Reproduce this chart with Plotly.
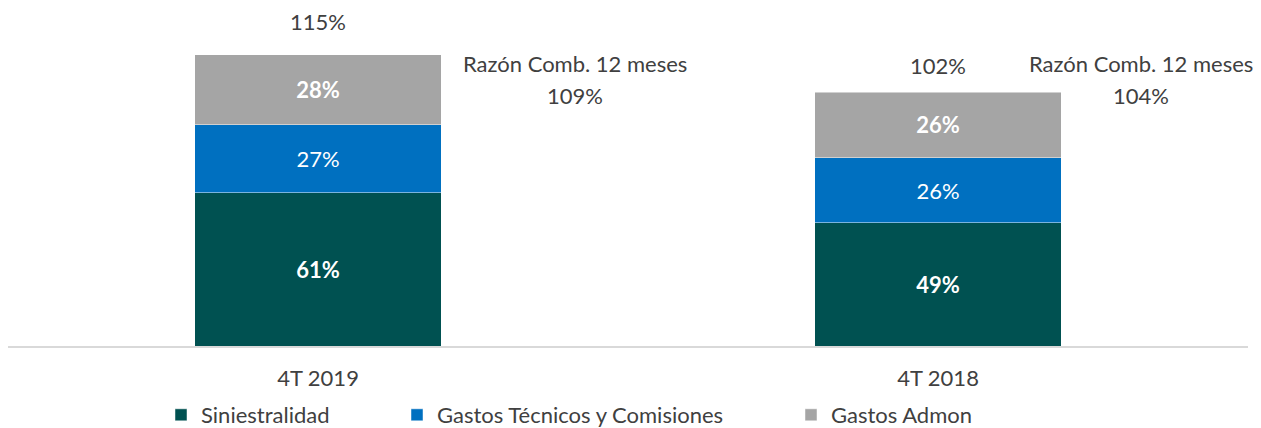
import plotly.graph_objects as go

categories = ["4T 2019", "4T 2018"]
siniestralidad = [61, 49]
gastos_tecnicos = [27, 26]
gastos_admon = [28, 26]
totales = [115, 102]
razon_12m = [109, 104]

series = [
    ("Siniestralidad", siniestralidad, "#005151", True),
    ("Gastos Técnicos y Comisiones", gastos_tecnicos, "#0070C0", False),
    ("Gastos Admon", gastos_admon, "#A5A5A5", True),
]

FONT = "Lato"
FS = 22
TXT = "#404040"
# The page body has an 8px margin, so the figure is sized to the visible area.
OFF = 8
W, H = 1261 - OFF, 428 - OFF
ML, MR, MT, MB = 0, 13, 14, 82
PW = W - ML - MR
PH = H - MT - MB

fig = go.Figure()
legend_ids = ["legend", "legend2", "legend3"]
for (name, vals, color, bold), lg in zip(series, legend_ids):
    labels = [(f"<b>{v}%</b>" if bold else f"{v}%") for v in vals]
    fig.add_trace(go.Bar(
        x=categories, y=vals, name=name, text=labels,
        textposition="inside", insidetextanchor="middle",
        textfont=dict(family=FONT, size=FS, color="white"),
        marker=dict(color=color, line=dict(color="rgba(255,255,255,0.6)", width=0.8)),
        hoverinfo="skip", legend=lg,
    ))

tops = [a + b + c for a, b, c in zip(siniestralidad, gastos_tecnicos, gastos_admon)]
total_shift = [33, 27]
# page-pixel centres of the "Razón Comb." labels
razon_px = [575, 1141]
annotations = []
for i, cat in enumerate(categories):
    annotations.append(dict(
        x=i, y=tops[i], xref="x", yref="y", text=f"{totales[i]}%",
        showarrow=False, xanchor="center", yanchor="middle", yshift=total_shift[i],
        font=dict(family=FONT, size=FS, color=TXT)))
    xr = (razon_px[i] - OFF - ML) / PW
    annotations.append(dict(
        x=xr, y=1, xref="paper", yref="paper", text="Razón Comb. 12 meses",
        showarrow=False, xanchor="center", yanchor="middle", yshift=-41,
        font=dict(family=FONT, size=FS, color=TXT)))
    annotations.append(dict(
        x=xr, y=1, xref="paper", yref="paper", text=f"{razon_12m[i]}%",
        showarrow=False, xanchor="center", yanchor="middle", yshift=-73,
        font=dict(family=FONT, size=FS, color=TXT)))

# legend placement (page-pixel targets for symbol centres)
sym_px = [181, 417, 811]
legend_y = -((415 - OFF) - (H - MB)) / PH
legends = {}
for lg, px in zip(legend_ids, sym_px):
    legends[lg] = dict(orientation="h", x=(px - OFF - 20 - ML) / PW, xanchor="left",
                       y=legend_y, yanchor="middle",
                       font=dict(family=FONT, size=FS, color=TXT),
                       itemwidth=30, bgcolor="rgba(0,0,0,0)", borderwidth=0)

fig.update_layout(
    barmode="stack",
    bargap=0.603,
    width=W, height=H,
    margin=dict(l=ML, r=MR, t=MT, b=MB, pad=0, autoexpand=False),
    paper_bgcolor="white", plot_bgcolor="white",
    font=dict(family=FONT, size=FS, color=TXT),
    showlegend=True,
    annotations=annotations,
    **legends,
)
fig.update_xaxes(showline=True, linecolor="#D9D9D9", linewidth=1.5, ticks="",
                 ticklabelstandoff=12, tickfont=dict(family=FONT, size=FS, color=TXT),
                 showgrid=False, zeroline=False, automargin=False)
fig.update_yaxes(visible=False, range=[0, 129], showgrid=False, zeroline=False)

fig.write_html("out.html")
